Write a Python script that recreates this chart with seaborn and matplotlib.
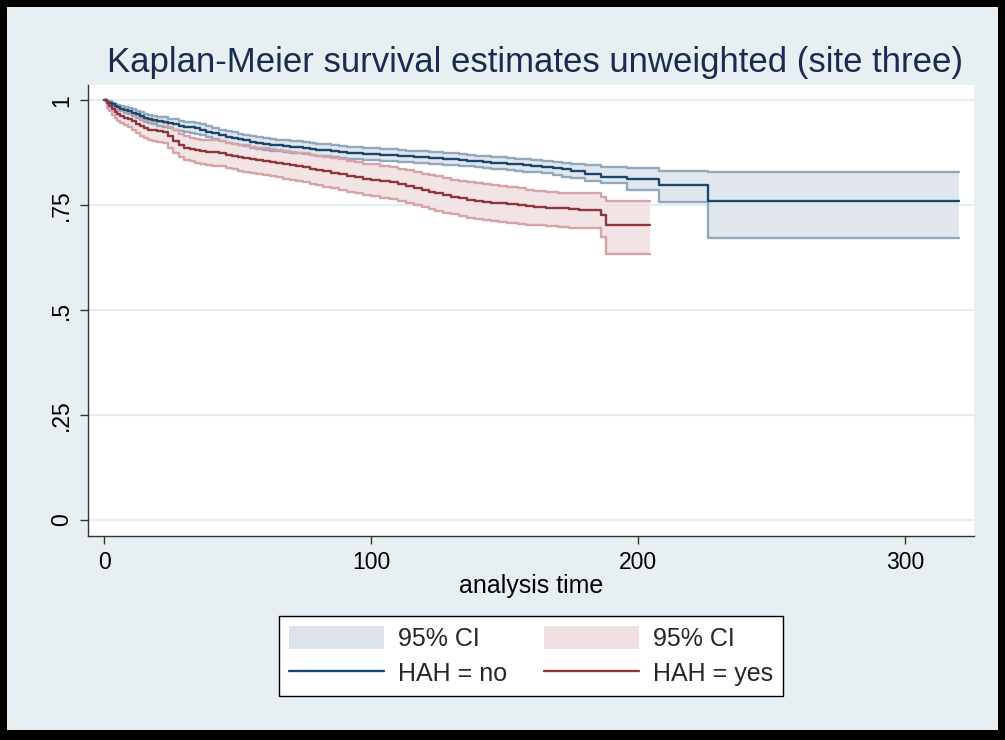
import matplotlib
matplotlib.use("Agg")
import matplotlib.pyplot as plt
from matplotlib.patches import Patch, Rectangle
from matplotlib.lines import Line2D
import seaborn as sns
import pandas as pd

# Kaplan-Meier estimates, HAH = no (last entry = end of follow-up)
no_time = [0, 1, 2, 3, 4, 5, 6, 7.5, 9, 10.5,
           12, 13.5, 15, 16.5, 18, 20, 22, 24, 26, 28,
           30, 32, 34, 36, 38, 40.5, 43, 45.5, 48, 50,
           52, 54.5, 57, 59.5, 62, 64.5, 67, 69.5, 72, 74.5,
           77, 79.5, 82, 85, 88, 91, 94, 97, 100, 103.5,
           107, 110, 113, 116, 119, 121.5, 124, 127, 130, 133,
           136, 139, 142, 145, 148, 151, 154, 157, 160, 164,
           168, 171.5, 175, 180, 186, 196, 208, 226, 320]
no_surv = [1.0, 0.996, 0.993, 0.990, 0.986, 0.983, 0.980, 0.977, 0.974, 0.970,
           0.966, 0.962, 0.958, 0.955, 0.953, 0.950, 0.948, 0.945, 0.942, 0.939,
           0.937, 0.935, 0.933, 0.929, 0.925, 0.921, 0.917, 0.913, 0.910, 0.907,
           0.904, 0.901, 0.898, 0.896, 0.894, 0.892, 0.891, 0.889, 0.888, 0.886,
           0.884, 0.882, 0.881, 0.879, 0.877, 0.875, 0.874, 0.872, 0.871, 0.870,
           0.869, 0.867, 0.866, 0.865, 0.864, 0.863, 0.862, 0.860, 0.859, 0.857,
           0.856, 0.854, 0.853, 0.851, 0.850, 0.848, 0.847, 0.845, 0.844, 0.841,
           0.838, 0.835, 0.831, 0.825, 0.817, 0.812, 0.798, 0.760, 0.760]
no_lower = [1.0, 0.992, 0.988, 0.984, 0.980, 0.976, 0.973, 0.970, 0.966, 0.962,
            0.957, 0.952, 0.948, 0.945, 0.942, 0.939, 0.936, 0.933, 0.930, 0.927,
            0.924, 0.922, 0.920, 0.916, 0.912, 0.907, 0.903, 0.899, 0.896, 0.893,
            0.890, 0.887, 0.884, 0.882, 0.880, 0.878, 0.877, 0.875, 0.874, 0.872,
            0.870, 0.868, 0.867, 0.865, 0.863, 0.861, 0.860, 0.858, 0.857, 0.856,
            0.855, 0.853, 0.852, 0.851, 0.850, 0.849, 0.848, 0.846, 0.845, 0.843,
            0.842, 0.840, 0.839, 0.837, 0.836, 0.834, 0.832, 0.830, 0.829, 0.826,
            0.822, 0.818, 0.814, 0.808, 0.802, 0.786, 0.757, 0.672, 0.672]
no_upper = [1.0, 0.999, 0.997, 0.994, 0.991, 0.989, 0.986, 0.984, 0.981, 0.978,
            0.974, 0.971, 0.967, 0.965, 0.963, 0.961, 0.959, 0.956, 0.954, 0.951,
            0.949, 0.947, 0.946, 0.942, 0.938, 0.934, 0.930, 0.926, 0.923, 0.920,
            0.918, 0.915, 0.912, 0.910, 0.908, 0.906, 0.905, 0.903, 0.902, 0.900,
            0.898, 0.896, 0.895, 0.893, 0.891, 0.889, 0.888, 0.886, 0.885, 0.884,
            0.883, 0.881, 0.880, 0.879, 0.878, 0.877, 0.876, 0.874, 0.873, 0.871,
            0.870, 0.868, 0.867, 0.865, 0.864, 0.863, 0.861, 0.860, 0.858, 0.856,
            0.853, 0.850, 0.848, 0.845, 0.841, 0.838, 0.832, 0.829, 0.829]

# Kaplan-Meier estimates, HAH = yes
yes_time = [0, 1, 2, 3, 4, 5, 6, 7.5, 9, 10.5,
            12, 13.5, 15, 16.5, 18, 20, 22, 24, 26, 28,
            30, 32, 34, 36, 38, 40.5, 43, 45.5, 48, 50,
            52, 54.5, 57, 59.5, 62, 64.5, 67, 69.5, 72, 74.5,
            77, 79.5, 82, 85, 88, 91, 94, 97, 100, 103.5,
            107, 110, 113, 116, 119, 121.5, 124, 127, 130, 133,
            136, 139, 142, 145, 148, 151, 155, 158, 161, 165.5,
            170, 174, 178, 186, 188, 204.5]
yes_surv = [1.0, 0.993, 0.985, 0.978, 0.971, 0.966, 0.962, 0.958, 0.955, 0.950,
            0.944, 0.938, 0.933, 0.930, 0.928, 0.926, 0.924, 0.914, 0.903, 0.894,
            0.887, 0.884, 0.881, 0.879, 0.877, 0.876, 0.874, 0.870, 0.867, 0.864,
            0.862, 0.859, 0.857, 0.855, 0.853, 0.850, 0.848, 0.845, 0.843, 0.840,
            0.837, 0.834, 0.831, 0.827, 0.824, 0.820, 0.816, 0.813, 0.810, 0.808,
            0.805, 0.800, 0.795, 0.790, 0.786, 0.782, 0.779, 0.774, 0.770, 0.766,
            0.763, 0.760, 0.758, 0.756, 0.754, 0.752, 0.750, 0.748, 0.746, 0.744,
            0.742, 0.740, 0.738, 0.726, 0.702, 0.702]
yes_lower = [1.0, 0.981, 0.974, 0.964, 0.957, 0.950, 0.945, 0.940, 0.936, 0.929,
             0.922, 0.915, 0.909, 0.905, 0.903, 0.900, 0.898, 0.887, 0.875, 0.865,
             0.857, 0.854, 0.851, 0.848, 0.846, 0.844, 0.842, 0.838, 0.835, 0.832,
             0.829, 0.826, 0.823, 0.821, 0.819, 0.816, 0.813, 0.810, 0.808, 0.805,
             0.801, 0.797, 0.794, 0.790, 0.786, 0.782, 0.778, 0.774, 0.771, 0.768,
             0.765, 0.760, 0.755, 0.750, 0.745, 0.741, 0.737, 0.732, 0.728, 0.724,
             0.720, 0.717, 0.714, 0.711, 0.709, 0.707, 0.705, 0.703, 0.702, 0.700,
             0.698, 0.696, 0.695, 0.674, 0.633, 0.633]
yes_upper = [1.0, 0.998, 0.993, 0.988, 0.984, 0.980, 0.977, 0.974, 0.971, 0.967,
             0.962, 0.957, 0.953, 0.951, 0.949, 0.947, 0.946, 0.937, 0.928, 0.920,
             0.914, 0.911, 0.908, 0.906, 0.905, 0.904, 0.902, 0.899, 0.896, 0.894,
             0.892, 0.889, 0.887, 0.885, 0.884, 0.882, 0.880, 0.877, 0.875, 0.873,
             0.870, 0.867, 0.865, 0.862, 0.859, 0.855, 0.852, 0.849, 0.847, 0.844,
             0.841, 0.837, 0.833, 0.829, 0.825, 0.822, 0.819, 0.815, 0.811, 0.807,
             0.804, 0.802, 0.800, 0.798, 0.796, 0.794, 0.790, 0.786, 0.783, 0.781,
             0.780, 0.779, 0.778, 0.770, 0.760, 0.760]

y_ticks = [0, 0.25, 0.5, 0.75, 1]
y_tick_labels = ["0", ".25", ".5", ".75", "1"]
x_ticks = [0, 100, 200, 300]
group_labels = ["HAH = no", "HAH = yes"]
title = "Kaplan-Meier survival estimates unweighted (site three)"

sns.set_theme(style="white")
plt.rcParams["font.family"] = ["Liberation Sans", "DejaVu Sans"]

BG = "#e7eff2"
NAVY = "#1a476f"
MAROON = "#90353b"
NAVY_FILL = "#dde3eb"
NAVY_EDGE = "#91a8bd"
MAROON_FILL = "#f0e0e1"
MAROON_EDGE = "#d6a3a6"

fig = plt.figure(figsize=(10.05, 7.40), dpi=100, facecolor=BG)
ax = fig.add_axes([0.0876, 0.2757, 0.8816, 0.6094])
ax.set_facecolor("white")

no_df = pd.DataFrame({"time": no_time, "surv": no_surv, "lo": no_lower, "hi": no_upper})
yes_df = pd.DataFrame({"time": yes_time, "surv": yes_surv, "lo": yes_lower, "hi": yes_upper})

# confidence bands: filled area plus outline at both limits
for df, fill, edge in [(no_df, NAVY_FILL, NAVY_EDGE), (yes_df, MAROON_FILL, MAROON_EDGE)]:
    ax.fill_between(df["time"], df["lo"], df["hi"], step="post",
                    color=fill, alpha=0.85, linewidth=0, zorder=2)
    for col in ["lo", "hi"]:
        sns.lineplot(data=df, x="time", y=col, ax=ax, color=edge, linewidth=1.7,
                     drawstyle="steps-post", estimator=None, sort=False, zorder=3)

# survival step functions
for df, line in [(no_df, NAVY), (yes_df, MAROON)]:
    sns.lineplot(data=df, x="time", y="surv", ax=ax, color=line, linewidth=1.7,
                 drawstyle="steps-post", estimator=None, sort=False, zorder=4)

ax.set_xlim(-6, 325.8)
ax.set_ylim(-0.038, 1.036)
ax.set_xticks(x_ticks)
ax.set_xticklabels([str(t) for t in x_ticks])
ax.set_yticks(y_ticks)
ax.set_yticklabels(y_tick_labels, rotation=90, va="center")
ax.tick_params(axis="both", direction="out", length=6, width=1, color="#333333",
               labelsize=16.5, labelcolor="black", left=True, bottom=True, pad=5)
ax.yaxis.grid(True, color="#e4edf1", linewidth=1.6)
ax.xaxis.grid(False)
ax.set_axisbelow(True)
for side in ["top", "right"]:
    ax.spines[side].set_visible(False)
for side in ["left", "bottom"]:
    ax.spines[side].set_color("#333333")
    ax.spines[side].set_linewidth(1.0)

ax.set_xlabel("analysis time", fontsize=18, color="black", labelpad=0)
ax.set_ylabel("")
fig.text(0.532, 0.915, title, ha="center", va="center", fontsize=25, color="#1a2b52")

handles = [Patch(facecolor=NAVY_FILL, edgecolor="none"),
           Line2D([], [], color=NAVY, linewidth=1.7),
           Patch(facecolor=MAROON_FILL, edgecolor="none"),
           Line2D([], [], color=MAROON, linewidth=1.7)]
labels = ["95% CI", group_labels[0], "95% CI", group_labels[1]]
leg = fig.legend(handles, labels, ncol=2, loc="center", bbox_to_anchor=(0.5284, 0.1135),
                 fontsize=18, frameon=True, fancybox=False, edgecolor="black",
                 facecolor="white", framealpha=1, handlelength=3.8, handleheight=1.05,
                 handletextpad=0.55, columnspacing=1.5, labelspacing=0.4, borderpad=0.4)
leg.get_frame().set_linewidth(1.0)

# black outer frame
for (x0, y0, w, h) in [(0, 0, 7 / 1005, 1), (1 - 7 / 1005, 0, 7 / 1005, 1),
                       (0, 1 - 7 / 740, 1, 7 / 740), (0, 0, 1, 10 / 740)]:
    fig.patches.append(Rectangle((x0, y0), w, h, transform=fig.transFigure,
                                 facecolor="black", edgecolor="none", zorder=10))

fig.savefig("out.png", dpi=100, facecolor=BG)
